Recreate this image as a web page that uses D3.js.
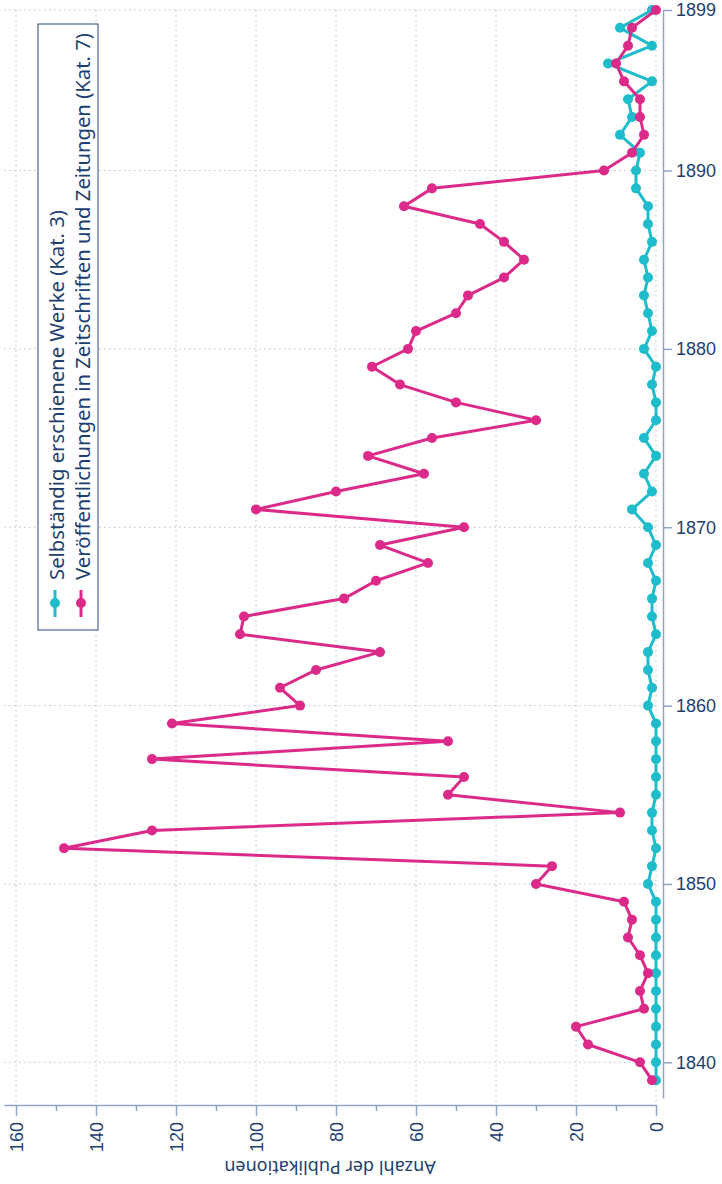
<!DOCTYPE html>
<html>
<head>
<meta charset="utf-8">
<script src="https://cdn.jsdelivr.net/npm/d3@7"></script>
<style>
  body { margin: 0; background: #fff; }
  svg { font-family: "Noto Sans", sans-serif; }
</style>
</head>
<body>
<div id="chart"></div>
<script>
// years 1839 - 1899
const years = d3.range(1839, 1900);

// Selbständig erschienene Werke (Kat. 3)
const kat3 = [0, 0, 0, 0, 0, 0, 0, 0, 0, 0, 0,
              2, 1, 0, 1, 1, 0, 0, 0, 0, 0,
              2, 1, 2, 2, 0, 1, 1, 0, 2, 0,
              2, 6, 1, 3, 0, 3, 0, 0, 1, 0,
              3, 1, 2, 3, 2, 3, 1, 2, 2, 5,
              5, 4, 9, 6, 7, 1, 12, 1, 9, 1];

// Veröffentlichungen in Zeitschriften und Zeitungen (Kat. 7)
const kat7 = [1, 4, 17, 20, 3, 4, 2, 4, 7, 6, 8,
              30, 26, 148, 126, 9, 52, 48, 126, 52, 121,
              89, 94, 85, 69, 104, 103, 78, 70, 57, 69,
              48, 100, 80, 58, 72, 56, 30, 50, 64, 71,
              62, 60, 50, 47, 38, 33, 38, 44, 63, 56,
              13, 6, 3, 4, 4, 8, 10, 7, 6, 0];

const yearTicks = [1840, 1850, 1860, 1870, 1880, 1890, 1899];
const valueTicks = [0, 20, 40, 60, 80, 100, 120, 140, 160];
const seriesNames = ["Selbständig erschienene Werke (Kat. 3)",
                     "Veröffentlichungen in Zeitschriften und Zeitungen (Kat. 7)"];
const colors = ["#1fbccb", "#dc2a8a"];

let width = 722;
let height = 1184;
const textColor = "#1d3f70";
const axisColor = "#8ea5c6";

let svg = d3.select('#chart')
            .append('svg')
            .attr('width', width)
            .attr('height', height);

// chart is turned: years run upward on the right, counts grow to the left
let yScale = d3.scaleLinear()
               .domain([1838, 1899])
               .range([1098, 10]);
let xScale = d3.scaleLinear()
               .domain([0, 163])
               .range([656, 4]);

// grid
svg.append('g')
   .selectAll('line')
   .data(valueTicks)
   .join('line')
   .attr('x1', d => xScale(d)).attr('x2', d => xScale(d))
   .attr('y1', yScale(1899)).attr('y2', 1104)
   .attr('stroke', '#b4c0d6')
   .attr('stroke-dasharray', '1.5,3.5');
svg.append('g')
   .selectAll('line')
   .data(yearTicks)
   .join('line')
   .attr('y1', d => yScale(d)).attr('y2', d => yScale(d))
   .attr('x1', xScale(163)).attr('x2', xScale(0))
   .attr('stroke', '#b4c0d6')
   .attr('stroke-dasharray', '1.5,3.5');

// year axis
let yAxis = svg.append('g')
               .attr('transform', 'translate(663,0)')
               .call(d3.axisRight(yScale).tickValues(yearTicks)
                       .tickFormat(d3.format('d')).tickSize(9).tickPadding(4).tickSizeOuter(0));
yAxis.select('.domain').attr('stroke', axisColor).attr('stroke-width', 1.5);
yAxis.selectAll('.tick line').attr('stroke', axisColor).attr('stroke-width', 1.5);
yAxis.selectAll('.tick text').attr('fill', textColor).style('font-size', '18px');

// value axis
let minor = svg.append('g')
               .attr('transform', 'translate(0,1105)')
               .call(d3.axisBottom(xScale).tickValues(d3.range(10, 161, 20))
                       .tickSize(6).tickFormat('').tickSizeOuter(0));
minor.select('.domain').remove();
minor.selectAll('.tick line').attr('stroke', axisColor).attr('stroke-width', 1.5);

let xAxis = svg.append('g')
               .attr('transform', 'translate(0,1105)')
               .call(d3.axisBottom(xScale).tickValues(valueTicks)
                       .tickSize(11).tickSizeOuter(0));
xAxis.select('.domain').attr('stroke', axisColor).attr('stroke-width', 1.5);
xAxis.selectAll('.tick line').attr('stroke', axisColor).attr('stroke-width', 1.5);
xAxis.selectAll('.tick text')
     .attr('fill', textColor)
     .style('font-size', '18px')
     .attr('y', 0).attr('dy', 0)
     .attr('text-anchor', 'end')
     .attr('transform', 'translate(6,17) rotate(-90)');

// axis title, upside down
svg.append('text')
   .attr('transform', `translate(${xScale(80) - 6},1161) rotate(180)`)
   .attr('text-anchor', 'middle')
   .attr('fill', textColor)
   .style('font-size', '18px')
   .text('Anzahl der Publikationen');

// series
const series = [kat3, kat7];
let line = d3.line()
             .x(d => xScale(d.v))
             .y(d => yScale(d.year));

series.forEach((vals, i) => {
  const pts = years.map((year, j) => ({year: year, v: vals[j]}));
  svg.append('path')
     .datum(pts)
     .attr('fill', 'none')
     .attr('stroke', colors[i])
     .attr('stroke-width', 3)
     .attr('stroke-linejoin', 'round')
     .attr('d', line);
  svg.append('g')
     .selectAll('circle')
     .data(pts)
     .join('circle')
     .attr('cx', d => xScale(d.v))
     .attr('cy', d => yScale(d.year))
     .attr('r', 5)
     .attr('fill', colors[i]);
});

// legend
const legend = svg.append('g');
legend.append('rect')
      .attr('x', 38).attr('y', 24)
      .attr('width', 60).attr('height', 606)
      .attr('fill', '#fff')
      .attr('stroke', '#2a4a7c')
      .attr('stroke-width', 1);
seriesNames.forEach((name, i) => {
  const cx = 55 + i * 26;
  legend.append('line')
        .attr('x1', cx).attr('x2', cx)
        .attr('y1', 590).attr('y2', 617)
        .attr('stroke', colors[i]).attr('stroke-width', 3);
  legend.append('circle')
        .attr('cx', cx).attr('cy', 603).attr('r', 5)
        .attr('fill', colors[i]);
  legend.append('text')
        .attr('transform', `translate(${cx + 9},580) rotate(-90)`)
        .attr('fill', textColor)
        .style('font-size', '20.3px')
        .text(name);
});
</script>
</body>
</html>
